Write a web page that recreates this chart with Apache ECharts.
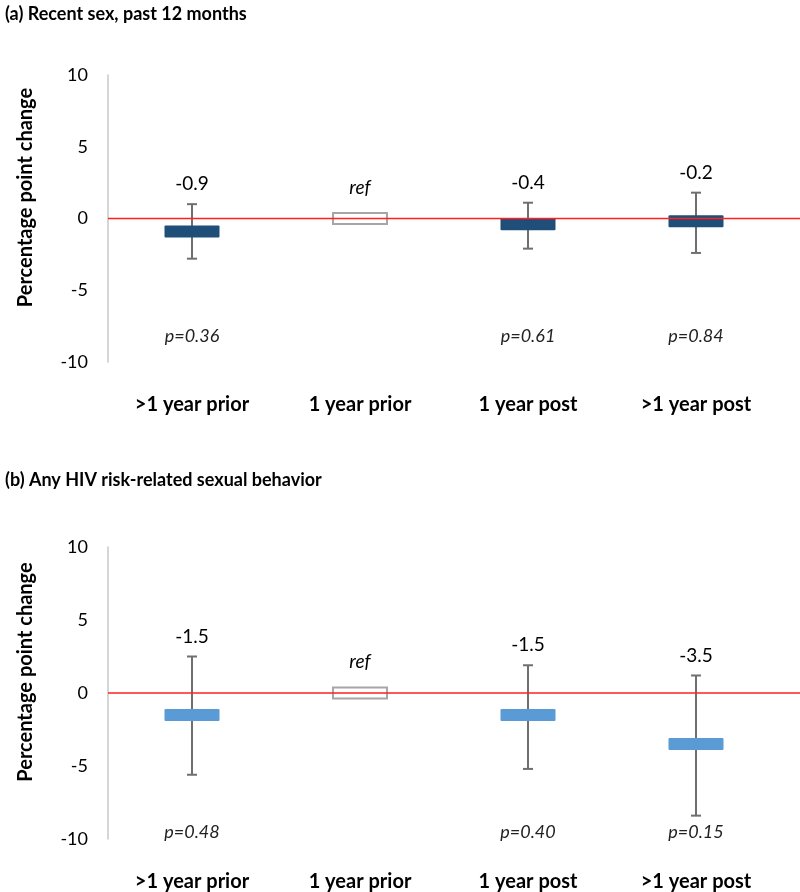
<!DOCTYPE html>
<html>
<head>
<meta charset="utf-8">
<script src="https://cdn.jsdelivr.net/npm/echarts@6/dist/echarts.min.js"></script>
<style>
html,body{margin:0;padding:0;background:#fff;}
#main{width:800px;height:892px;}
</style>
</head>
<body>
<div id="main"></div>
<script>
// ---- data ----
const categories = ['>1 year prior', '1 year prior', '1 year post', '>1 year post'];
const yTicks = [-10, -5, 0, 5, 10];

const titleA = '(a) Recent sex, past 12 months';
const estA   = [-0.9, 0, -0.4, -0.2];
const lowA   = [-2.8, null, -2.1, -2.4];
const highA  = [1.0, null, 1.1, 1.8];
const labelA = ['-0.9', 'ref', '-0.4', '-0.2'];
const pA     = ['p=0.36', '', 'p=0.61', 'p=0.84'];

const titleB = '(b) Any HIV risk-related sexual behavior';
const estB   = [-1.5, 0, -1.5, -3.5];
const lowB   = [-5.6, null, -5.2, -8.4];
const highB  = [2.5, null, 1.9, 1.2];
const labelB = ['-1.5', 'ref', '-1.5', '-3.5'];
const pB     = ['p=0.48', '', 'p=0.40', 'p=0.15'];

const FONT = 'Lato, "Open Sans", sans-serif';

function makeRender(est, low, high, labels, pvals, color, pY) {
  return function (params, api) {
    const i = params.dataIndex;
    const c = api.coord([i, est[i]]);
    const children = [];
    const boxW = 55, boxH = 12;
    if (low[i] === null) {
      children.push({
        type: 'rect',
        shape: { x: c[0] - 27, y: c[1] - 5.5, width: 54, height: 11 },
        style: { fill: '#fff', stroke: '#A6A6A6', lineWidth: 2 }
      });
      children.push({
        type: 'text',
        style: {
          text: labels[i], x: c[0], y: c[1] - 31,
          align: 'center', verticalAlign: 'middle',
          fontFamily: FONT, fontSize: 19, fontStyle: 'italic', fill: '#000'
        }
      });
    } else {
      const lo = api.coord([i, low[i]]);
      const hi = api.coord([i, high[i]]);
      const st = { stroke: '#6F6F6F', lineWidth: 2 };
      children.push({ type: 'line', shape: { x1: c[0], y1: hi[1], x2: c[0], y2: lo[1] }, style: st });
      children.push({ type: 'line', shape: { x1: c[0] - 5, y1: hi[1], x2: c[0] + 5, y2: hi[1] }, style: st });
      children.push({ type: 'line', shape: { x1: c[0] - 5, y1: lo[1], x2: c[0] + 5, y2: lo[1] }, style: st });
      children.push({
        type: 'rect',
        shape: { x: c[0] - boxW / 2, y: c[1] - boxH / 2, width: boxW, height: boxH, r: 1 },
        style: { fill: color }
      });
      children.push({
        type: 'text',
        style: {
          text: labels[i], x: c[0], y: hi[1] - 20,
          align: 'center', verticalAlign: 'middle',
          fontFamily: FONT, fontSize: 19, fill: '#000'
        }
      });
    }
    if (pvals[i]) {
      const pp = api.coord([i, pY]);
      children.push({
        type: 'text',
        style: {
          text: pvals[i], x: c[0], y: pp[1],
          align: 'center', verticalAlign: 'middle',
          fontFamily: FONT, fontSize: 18, fontStyle: 'italic', fill: '#222'
        }
      });
    }
    return { type: 'group', children: children };
  };
}

function zeroLine(params, api) {
  const p = api.coord([0, 0]);
  return {
    type: 'line',
    shape: { x1: params.coordSys.x, y1: p[1], x2: api.getWidth(), y2: p[1] },
    style: { stroke: '#FF2020', lineWidth: 1.3 }
  };
}

function yAxisCfg(gi) {
  return {
    gridIndex: gi, type: 'value', min: -10, max: 10, interval: 5,
    name: 'Percentage point change', nameLocation: 'middle', nameGap: 72, nameRotate: 90,
    nameTextStyle: { fontFamily: FONT, fontSize: 20, fontWeight: 'bold', color: '#000', padding: [0, 0, 0, 42] },
    axisLine: { show: true, lineStyle: { color: '#C8C8C8', width: 1.5 } },
    axisTick: { show: false },
    splitLine: { show: false },
    axisLabel: {
      fontFamily: FONT, fontSize: 18, color: '#000', margin: 20,
      formatter: v => (yTicks.indexOf(v) >= 0 ? String(v) : '')
    }
  };
}
function xAxisCfg(gi) {
  return {
    gridIndex: gi, type: 'category', data: categories, boundaryGap: true,
    axisLine: { show: false }, axisTick: { show: false }, splitLine: { show: false },
    axisLabel: { fontFamily: FONT, fontSize: 20, fontWeight: 'bold', color: '#000', margin: 33, interval: 0 }
  };
}

const chart = echarts.init(document.getElementById('main'), null, { renderer: 'canvas' });
chart.setOption({
  backgroundColor: '#fff',
  animation: false,
  title: [
    { text: titleA, left: 0, top: 0, textStyle: { fontFamily: FONT, fontSize: 18, fontWeight: 'bold', color: '#000' } },
    { text: titleB, left: 0, top: 466, textStyle: { fontFamily: FONT, fontSize: 18, fontWeight: 'bold', color: '#000' } }
  ],
  grid: [
    { left: 108, top: 75, width: 672, height: 287 },
    { left: 108, top: 547, width: 672, height: 292 }
  ],
  xAxis: [xAxisCfg(0), xAxisCfg(1)],
  yAxis: [yAxisCfg(0), yAxisCfg(1)],
  series: [
    {
      type: 'custom', xAxisIndex: 0, yAxisIndex: 0, clip: false,
      data: categories.map((c, i) => [i, estA[i]]),
      renderItem: makeRender(estA, lowA, highA, labelA, pA, '#1F4E79', -8.2), z: 2
    },
    {
      type: 'custom', xAxisIndex: 0, yAxisIndex: 0, clip: false,
      data: [[0, 0]], renderItem: zeroLine, z: 5
    },
    {
      type: 'custom', xAxisIndex: 1, yAxisIndex: 1, clip: false,
      data: categories.map((c, i) => [i, estB[i]]),
      renderItem: makeRender(estB, lowB, highB, labelB, pB, '#5B9BD5', -9.5), z: 2
    },
    {
      type: 'custom', xAxisIndex: 1, yAxisIndex: 1, clip: false,
      data: [[0, 0]], renderItem: zeroLine, z: 5
    }
  ]
});
</script>
</body>
</html>
